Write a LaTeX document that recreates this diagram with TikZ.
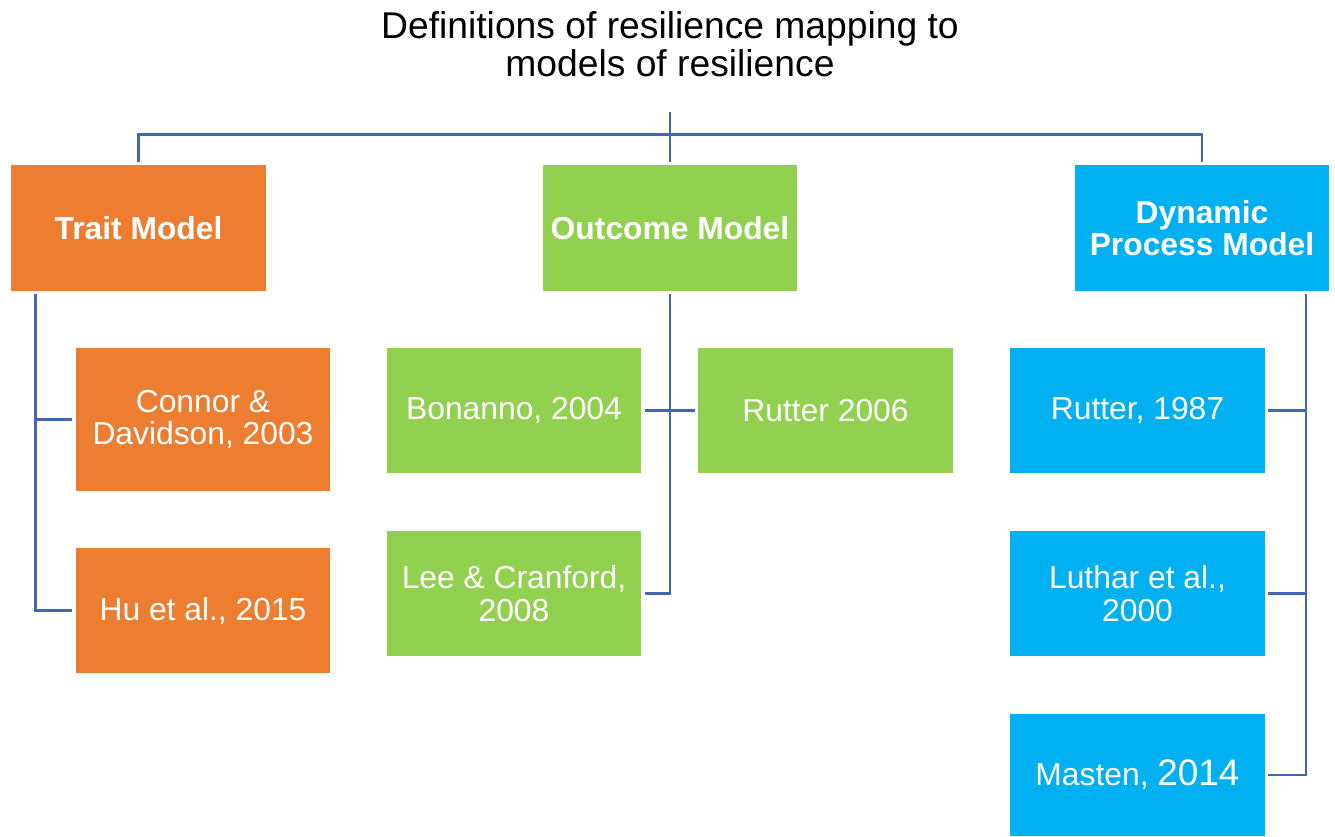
\documentclass[tikz,border=0pt]{standalone}
\usepackage{fontspec}
\setmainfont{Liberation Sans}
\usepackage{xcolor}
\definecolor{traitorange}{HTML}{ED7D31}
\definecolor{outcomegreen}{HTML}{92D050}
\definecolor{dynblue}{HTML}{00B0F0}
\definecolor{linkblue}{HTML}{4466B0}
\tikzset{
  modelbox/.style={fill=#1, text=white, align=center, inner sep=0pt,
    minimum width=5.1cm, minimum height=2.52cm,
    font=\fontsize{18.1}{18.5}\selectfont\bfseries},
  refbox/.style={fill=#1, text=white, align=center, inner sep=0pt,
    minimum width=5.1cm, minimum height=2.5cm,
    font=\fontsize{18.1}{18.5}\selectfont},
  link/.style={draw=linkblue, line width=1.5pt, shorten <=1.6pt, shorten >=1.6pt},
}

\begin{document}
\begin{tikzpicture}[x=0.02cm,y=-0.02cm]
\useasboundingbox (0,0) rectangle (1335,836);

% Title
\node[align=center, font=\fontsize{21.2}{21.6}\selectfont] (title) at (670,44)
  {Definitions of resilience mapping to\\models of resilience};
\coordinate (root) at (670,109);

% Draw the three models
\node[modelbox=traitorange] (trait) at (138.5,228) {Trait Model};
\node[modelbox=outcomegreen] (outcome) at (670,228) {Outcome Model};
\node[modelbox=dynblue] (dynamic) at (1202,228) {Dynamic\\Process Model};

% Trait model references
\node[refbox=traitorange, minimum height=2.86cm] (connor) at (203,419.5) {Connor \&\\Davidson, 2003};
\node[refbox=traitorange] (hu) at (203,610.5) {Hu et al., 2015};

% Outcome model references
\node[refbox=outcomegreen] (bonanno) at (514,410.5) {Bonanno, 2004};
\node[refbox=outcomegreen] (rutter06) at (825.5,410.5) {Rutter 2006};
\node[refbox=outcomegreen] (lee) at (514,593.5) {Lee \& Cranford,\\2008};

% Dynamic process model references
\node[refbox=dynblue] (rutter87) at (1137.5,410.5) {Rutter, 1987};
\node[refbox=dynblue] (luthar) at (1137.5,593.5) {Luthar et al.,\\2000};
\node[refbox=dynblue, minimum height=2.44cm] (masten) at (1137.5,775)
  {Masten, {\fontsize{21}{21}\selectfont 2014}};

% Draw the tree lines
\draw[link] (root) -- (outcome.north);
\draw[link] (trait.north) -- ++(0,-30) -| (dynamic.north);

\draw[link] ([xshift=0.5cm]trait.south west) |- (connor.west);
\draw[link] ([xshift=0.5cm]trait.south west) |- (hu.west);

\draw[link] (outcome.south) |- (lee.east);
\draw[link] (bonanno.east) -- (rutter06.west);

\draw[link] ([xshift=-0.48cm]dynamic.south east) |- (rutter87.east);
\draw[link] ([xshift=-0.48cm]dynamic.south east) |- (luthar.east);
\draw[link] ([xshift=-0.48cm]dynamic.south east) |- (masten.east);
\end{tikzpicture}
\end{document}
